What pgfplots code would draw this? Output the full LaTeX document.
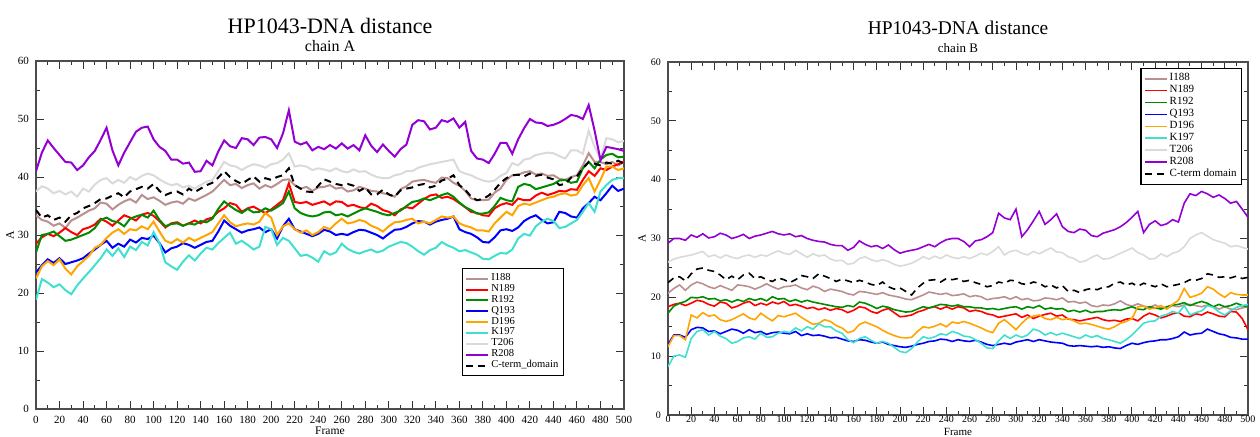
\documentclass[border=0pt]{standalone}
\usepackage{fontspec}
\setmainfont{Liberation Serif}
\usepackage{pgfplots}
\usepackage{pgfplotstable}
\pgfplotsset{compat=1.18}
\definecolor{crosy}{RGB}{188,143,143}
\definecolor{cred}{RGB}{255,0,0}
\definecolor{cgreen}{RGB}{0,139,0}
\definecolor{cblue}{RGB}{0,0,255}
\definecolor{corange}{RGB}{255,165,0}
\definecolor{cturq}{RGB}{64,224,208}
\definecolor{cgray}{RGB}{218,218,218}
\definecolor{cpurple}{RGB}{148,0,211}

\pgfplotstableread{
f I N R Q D K T P C
0 33.4 28.5 27.0 23.5 22.5 18.8 37.5 41.0 34.3
5 32.6 29.6 30.0 24.8 24.6 22.4 38.4 44.2 33.0
10 32.3 30.2 30.2 25.8 25.5 21.8 38.0 46.3 33.4
15 31.6 29.8 30.6 25.2 24.8 21.0 37.2 45.0 32.6
20 32.0 30.4 29.8 26.0 25.8 21.5 37.6 43.8 33.0
25 31.2 31.2 29.0 25.0 24.2 20.5 37.0 42.6 32.3
30 32.5 30.5 29.2 25.3 23.2 19.8 37.5 42.5 33.4
35 33.0 30.0 29.6 25.6 24.6 21.3 36.6 41.2 33.8
40 33.6 31.0 30.0 26.0 25.5 22.5 38.0 42.0 34.6
45 34.2 31.3 30.4 26.8 26.4 23.6 37.5 43.4 35.0
50 34.6 31.8 31.2 27.5 27.8 24.8 38.7 44.5 35.5
55 35.6 32.8 32.6 28.3 28.3 26.0 39.5 46.4 36.2
60 35.4 32.3 33.0 29.0 29.5 27.5 39.8 48.5 36.3
65 34.4 31.6 32.4 27.8 30.4 26.4 38.9 44.6 36.8
70 35.2 32.5 32.2 28.5 31.0 27.7 39.5 42.0 37.2
75 35.8 33.4 31.5 28.0 30.2 26.2 39.0 44.2 36.5
80 36.2 33.0 32.8 29.2 31.0 28.0 40.0 46.0 37.5
85 35.6 32.5 33.2 28.7 30.8 27.4 39.5 47.8 37.9
90 36.9 33.5 33.5 29.5 31.5 28.8 40.2 48.5 38.3
95 36.2 33.8 33.0 29.3 31.0 28.2 40.6 48.7 38.0
100 36.5 33.3 34.2 29.9 32.3 30.5 40.3 46.5 38.8
105 35.9 32.4 32.6 28.6 30.6 28.6 39.6 45.2 37.6
110 35.2 31.3 31.5 27.0 29.0 25.3 39.0 44.5 36.9
115 35.6 32.0 31.9 27.7 28.6 24.6 38.6 43.0 37.3
120 35.8 32.2 32.0 28.0 29.3 24.0 38.8 43.0 37.5
125 35.4 31.6 31.6 28.6 28.7 25.4 38.2 42.3 37.0
130 36.3 32.0 32.0 28.3 29.5 26.5 38.5 42.5 38.0
135 35.9 32.5 31.8 27.8 29.0 25.6 38.0 40.9 37.4
140 36.4 32.0 32.4 28.3 29.5 26.8 38.6 41.0 38.0
145 36.9 32.7 32.2 28.8 30.0 27.8 39.2 42.8 38.6
150 37.5 33.0 32.8 29.0 30.5 27.5 39.5 42.0 39.0
155 38.5 34.0 34.5 30.6 32.0 28.6 41.0 44.4 39.9
160 39.5 34.6 35.8 32.5 33.4 29.5 42.6 46.3 41.0
165 38.6 35.5 35.0 31.6 32.2 30.4 42.0 45.3 40.0
170 38.8 35.2 34.3 31.0 31.5 28.5 41.8 45.0 39.3
175 38.1 34.0 33.8 30.4 31.8 29.0 41.2 46.7 38.8
180 38.6 34.6 34.5 30.8 32.0 28.3 41.8 46.5 39.5
185 38.9 34.9 33.9 31.0 31.8 27.5 42.2 45.5 40.1
190 38.0 34.3 34.0 31.3 32.3 28.0 42.0 46.8 39.2
195 38.6 33.8 34.6 30.5 33.8 31.4 41.6 46.9 39.8
200 38.2 34.4 34.2 31.0 33.0 31.0 42.2 46.5 39.5
205 38.8 35.2 34.8 29.4 30.0 28.3 42.4 45.0 40.0
210 39.5 36.0 35.5 31.5 31.5 29.5 43.0 47.5 40.3
215 39.6 38.9 37.5 32.8 32.0 29.0 44.1 51.5 41.5
220 38.6 35.7 34.6 31.0 31.0 27.7 41.8 46.1 38.6
225 38.0 35.5 33.8 30.6 30.4 26.4 42.0 45.6 38.0
230 38.3 35.7 33.4 30.2 30.8 26.6 41.8 46.0 37.5
235 37.6 35.2 33.2 29.8 30.0 26.1 41.2 44.6 37.4
240 38.2 35.5 33.4 30.2 30.5 25.4 41.5 45.2 38.5
245 38.3 35.8 33.9 30.9 31.4 27.2 41.3 44.8 39.6
250 38.6 35.2 34.0 30.6 31.0 26.6 41.0 45.5 39.2
255 38.0 35.8 33.4 30.0 32.0 27.0 41.5 44.9 38.8
260 38.2 35.7 33.6 30.2 32.8 28.5 41.0 45.8 38.6
265 37.5 35.0 33.2 30.0 32.0 27.6 40.8 44.9 38.8
270 37.7 35.2 33.7 30.5 32.2 27.1 41.3 45.5 38.5
275 38.3 34.8 34.2 30.9 32.6 26.8 40.9 44.6 37.6
280 38.0 34.6 34.6 30.8 32.3 27.2 41.0 47.2 38.2
285 37.6 35.4 34.3 30.4 31.6 27.5 40.4 45.4 37.0
290 37.5 35.0 34.0 30.0 31.2 27.0 40.0 44.3 37.0
295 37.2 34.3 33.6 29.4 30.6 27.3 39.8 45.6 37.8
300 37.0 34.0 33.4 30.2 31.5 28.0 39.8 44.5 37.0
305 36.6 33.4 33.8 30.9 32.2 28.4 40.3 43.5 36.6
310 37.9 34.4 34.2 31.0 32.3 28.8 40.5 44.8 37.7
315 38.4 34.8 35.0 31.4 32.6 28.6 41.0 45.6 38.0
320 39.2 34.6 35.7 32.0 32.8 28.0 41.0 49.0 38.2
325 39.4 35.4 35.9 32.4 32.0 27.2 41.6 49.8 38.6
330 39.5 36.2 36.3 32.3 32.3 26.6 41.9 49.6 38.8
335 39.2 36.8 36.0 31.8 32.0 27.4 42.2 48.2 38.2
340 39.0 37.0 36.4 32.3 32.6 27.8 42.4 48.5 38.5
345 39.9 36.4 36.9 32.6 33.2 28.8 42.6 49.8 39.4
350 39.8 36.6 37.2 32.8 33.0 28.2 42.8 49.5 39.7
355 39.0 36.2 36.6 33.2 33.2 27.8 43.0 50.1 40.3
360 38.5 35.5 35.6 31.0 32.0 27.2 41.0 48.5 38.6
365 37.6 34.8 34.8 30.5 31.6 27.4 40.6 49.5 37.8
370 36.3 34.0 34.3 30.2 31.3 27.0 40.3 44.5 36.6
375 36.0 33.8 33.7 29.6 30.8 26.6 39.8 43.2 36.0
380 36.0 33.4 33.7 28.8 30.8 25.9 39.4 43.0 36.2
385 36.1 33.3 33.9 28.7 30.6 25.8 39.2 42.4 36.8
390 37.3 34.6 35.0 29.6 32.0 26.4 39.4 44.0 37.8
395 38.0 35.2 36.4 30.8 33.0 26.9 40.2 45.9 39.0
400 39.5 35.5 36.0 31.0 34.0 26.8 40.7 45.9 39.8
405 40.3 35.2 35.8 30.7 33.4 27.5 42.4 44.0 40.3
410 40.4 36.3 38.3 31.3 35.0 29.4 42.0 46.5 40.4
415 40.8 36.0 38.8 32.4 35.4 30.2 43.0 48.4 40.1
420 41.0 36.0 38.6 33.0 35.2 29.9 43.2 50.0 40.6
425 40.4 36.8 37.9 33.4 35.6 31.5 43.8 49.4 40.2
430 40.6 37.3 38.2 32.6 36.0 32.3 44.0 49.3 40.4
435 40.2 36.9 38.5 32.0 36.4 32.8 44.2 48.8 39.9
440 40.3 37.2 38.8 32.2 36.6 32.4 44.1 49.0 39.6
445 39.7 37.6 39.4 34.0 37.0 31.2 43.6 49.4 38.6
450 39.5 37.5 39.5 33.8 37.2 31.4 43.2 50.0 38.8
455 40.0 37.9 39.0 33.2 36.8 32.0 44.6 50.7 39.9
460 40.3 37.8 39.2 33.0 37.0 32.6 44.6 50.5 40.1
465 42.0 39.5 41.5 34.6 38.6 34.0 44.0 50.0 41.5
470 44.1 41.0 42.6 35.5 39.8 35.5 48.0 52.4 42.6
475 42.6 40.2 41.5 36.6 37.5 34.0 45.2 48.0 42.3
480 42.6 41.5 43.0 36.0 39.5 37.5 43.0 42.9 42.0
485 42.2 41.2 43.8 37.2 41.8 38.6 46.7 45.2 42.5
490 42.6 41.8 44.0 38.5 41.8 39.5 46.5 45.0 42.3
495 42.0 42.2 43.4 37.6 41.2 39.8 46.0 44.8 42.8
500 42.6 42.6 43.5 38.0 41.5 39.8 46.2 44.5 42.3
}\chainA

\pgfplotstableread{
f I N R Q D K T P C
0 20.7 18.4 17.3 12.0 11.6 8.2 26.0 29.2 22.5
5 21.5 18.8 18.5 13.6 13.5 10.0 26.5 30.0 23.3
10 22.1 19.0 19.0 13.6 13.5 10.2 26.8 30.0 23.5
15 21.2 18.6 19.3 13.2 12.8 9.8 27.0 29.7 22.8
20 22.1 19.0 20.0 14.5 17.0 13.0 27.2 30.6 24.0
25 22.6 19.5 19.9 14.9 16.5 14.2 27.5 30.2 24.8
30 22.3 19.3 20.1 14.8 17.4 14.5 27.8 30.8 25.0
35 21.8 18.8 19.7 14.2 16.8 13.6 26.9 30.1 24.6
40 21.5 18.5 19.8 14.3 17.0 14.2 27.2 30.3 24.4
45 22.0 19.2 19.4 13.8 16.2 13.4 26.7 30.9 23.8
50 21.6 19.0 19.6 14.2 15.9 13.0 27.2 30.6 23.0
55 21.2 18.2 19.2 14.6 16.2 12.2 26.8 30.0 23.6
60 22.1 18.5 19.6 14.4 16.7 12.5 26.6 30.3 23.0
65 22.0 19.0 19.3 13.9 17.2 13.1 27.0 30.7 23.8
70 21.8 19.3 19.8 14.5 16.5 13.3 27.2 30.0 24.1
75 21.4 18.6 19.5 14.0 16.2 12.9 26.8 30.4 23.2
80 21.8 19.0 19.8 14.2 17.3 13.9 27.2 30.6 23.5
85 22.3 18.7 19.4 13.7 16.6 13.2 27.0 30.9 23.0
90 21.8 19.2 20.1 14.0 16.0 13.3 27.5 31.2 22.7
95 21.4 18.9 19.7 14.1 16.9 13.9 27.9 30.8 23.3
100 21.8 19.3 19.8 13.9 16.7 14.2 27.5 30.6 23.0
105 21.9 18.6 19.3 13.8 17.0 14.0 27.3 30.8 22.5
110 22.1 18.8 19.6 14.2 17.3 14.8 28.0 30.3 23.0
115 21.6 18.5 19.2 13.5 16.6 14.3 27.4 30.5 23.7
120 21.3 18.1 19.5 13.8 16.0 15.0 26.8 30.0 23.5
125 21.9 18.3 19.2 13.5 15.4 14.6 27.4 29.7 23.2
130 21.6 17.9 19.0 13.6 15.6 15.5 27.0 29.5 24.0
135 21.0 18.2 18.8 13.4 16.2 15.0 27.2 29.4 23.6
140 21.4 17.8 18.6 13.1 15.9 15.0 26.5 29.0 23.2
145 21.2 18.1 18.4 13.2 15.2 14.3 26.2 28.8 22.7
150 21.0 17.9 18.3 12.9 14.8 13.9 26.3 28.8 23.1
155 20.6 17.4 18.6 12.6 14.0 12.8 25.6 28.0 22.8
160 20.4 17.8 18.4 12.5 14.3 12.3 25.8 28.5 22.5
165 21.0 18.4 19.2 12.8 15.4 13.0 26.6 29.6 22.9
170 20.9 18.2 19.0 12.7 15.8 13.3 26.9 29.0 22.6
175 20.7 17.6 18.6 12.4 15.4 12.7 26.4 28.6 22.2
180 20.5 17.3 18.1 12.2 15.0 12.2 26.1 28.8 22.0
185 20.8 17.8 18.5 12.4 14.4 12.5 26.4 28.3 22.6
190 20.4 18.1 18.3 12.0 13.9 12.2 26.1 28.9 21.8
195 20.2 17.4 17.9 11.8 13.5 11.5 25.6 28.1 21.4
200 20.0 16.7 17.7 11.6 13.2 10.8 25.3 27.5 21.6
205 19.7 16.8 17.5 11.5 13.1 10.6 25.5 27.8 21.0
210 19.6 17.0 17.6 11.7 13.2 11.3 25.8 28.0 20.4
215 20.0 17.5 18.0 12.0 14.2 12.4 26.3 28.2 21.6
220 20.4 17.8 18.4 12.2 15.0 13.3 26.9 28.6 22.4
225 20.9 18.2 18.2 12.5 14.8 13.0 26.5 29.0 22.9
230 20.7 18.4 18.5 12.6 15.1 13.3 27.0 28.6 23.0
235 20.5 18.0 18.8 12.9 15.5 13.8 26.6 29.3 22.6
240 20.7 18.4 18.7 12.8 15.0 13.6 27.2 29.8 23.2
245 20.3 18.0 18.5 12.5 15.8 14.2 26.8 30.0 23.0
250 20.4 18.4 18.7 12.8 15.6 13.9 26.6 30.0 23.2
255 20.6 18.2 18.4 12.6 15.9 13.4 26.9 29.5 22.7
260 20.1 17.6 18.4 12.5 15.6 13.3 26.6 28.6 22.9
265 20.3 17.8 18.2 12.7 15.2 12.8 27.0 29.6 22.5
270 20.1 17.6 18.2 12.4 14.8 12.2 27.5 29.8 22.2
275 19.6 17.2 18.0 12.0 14.3 11.4 27.2 30.3 21.8
280 19.8 17.0 18.1 11.8 14.0 11.3 27.8 31.0 22.0
285 19.9 16.6 17.9 12.0 15.6 12.6 28.6 34.3 22.6
290 20.1 16.8 18.1 12.2 16.2 13.6 27.2 33.5 22.4
295 19.7 17.0 18.3 12.0 15.4 13.0 27.8 33.2 22.9
300 20.1 17.2 18.4 12.4 14.5 13.6 28.0 35.0 22.8
305 19.6 16.6 18.0 12.6 15.6 13.2 27.5 30.3 22.3
310 19.8 17.0 18.4 12.8 16.5 13.6 27.2 31.5 22.2
315 19.4 16.4 18.2 12.5 16.8 14.6 27.8 33.0 22.6
320 19.5 16.8 18.6 12.8 17.0 14.3 27.4 34.6 22.4
325 19.9 17.1 18.0 12.6 16.4 13.6 27.9 32.4 21.8
330 19.8 17.3 18.2 12.4 16.2 14.0 28.4 33.2 22.1
335 19.6 16.8 18.0 12.3 16.6 13.6 27.7 34.2 21.6
340 19.9 17.0 18.1 12.2 16.2 13.9 27.6 32.0 22.0
345 19.2 16.3 17.6 11.8 16.4 13.6 26.9 31.2 21.0
350 19.3 16.2 17.8 11.7 16.0 13.3 26.6 31.0 21.2
355 19.0 16.0 17.5 11.8 15.5 13.0 26.0 31.6 20.8
360 19.2 16.2 17.8 11.7 15.6 13.6 26.2 31.4 21.3
365 18.6 16.4 17.4 11.6 15.4 13.2 26.8 30.5 21.5
370 18.4 16.6 17.6 11.7 15.1 13.5 27.2 30.3 21.3
375 18.7 16.2 17.6 11.5 14.8 13.0 26.5 30.9 21.7
380 18.6 16.0 17.8 11.6 14.6 12.8 26.6 31.2 21.8
385 18.9 16.1 17.9 11.4 15.0 12.5 27.0 31.5 22.4
390 19.4 15.9 17.8 11.3 15.6 12.2 27.5 32.0 22.6
395 18.8 16.3 18.1 11.8 15.9 12.8 27.9 32.7 22.1
400 18.5 16.4 18.4 12.2 16.4 13.6 28.4 33.6 22.4
405 18.9 16.0 18.0 12.0 18.4 14.6 27.6 34.6 21.9
410 18.5 16.8 17.9 12.3 18.5 15.6 27.2 31.0 22.4
415 18.3 17.3 18.4 12.5 18.0 15.9 26.5 32.4 22.1
420 18.7 17.0 18.2 12.6 18.2 16.0 26.6 33.0 21.8
425 18.2 16.5 18.0 12.8 18.6 16.8 27.4 32.2 22.3
430 18.1 16.8 18.4 12.8 18.0 17.1 26.9 32.5 21.8
435 18.6 17.2 18.7 13.0 18.8 17.6 27.5 33.2 22.0
440 18.4 17.4 18.8 13.3 19.5 17.3 27.8 32.8 22.2
445 18.7 16.8 19.1 14.1 21.5 18.6 28.6 36.0 22.5
450 18.8 16.7 18.6 13.6 20.0 17.0 30.0 37.6 23.0
455 18.6 17.2 19.0 13.8 20.3 17.4 30.6 37.3 22.9
460 18.4 17.0 19.3 13.9 20.7 17.7 31.0 38.0 23.2
465 18.7 17.5 19.0 14.6 21.8 18.6 30.4 37.6 24.0
470 18.4 17.2 18.4 14.2 21.4 18.3 29.8 37.0 23.8
475 18.0 16.8 18.8 13.8 20.6 17.5 29.5 37.4 23.4
480 18.4 16.7 18.4 13.6 20.0 17.0 29.2 36.8 23.5
485 18.0 17.6 18.6 13.2 20.8 17.7 28.6 36.0 23.3
490 17.9 17.5 19.0 13.1 20.5 18.3 28.8 36.3 23.6
495 18.2 16.4 18.6 12.9 20.4 18.6 28.5 35.0 23.2
500 18.4 14.5 18.4 12.9 20.4 18.8 28.2 33.6 23.4
}\chainB

\pgfplotsset{
  hpaxis/.style={
    scale only axis,
    xmin=0, xmax=500, ymin=0, ymax=60,
    xtick distance=20, ytick distance=10,
    minor x tick num=1, minor y tick num=1,
    major tick length=4pt, minor tick length=2pt,
    tick style={black!80, line width=0.5pt},
    axis line style={black!70, line width=0.6pt},
    /pgf/number format/assume math mode=true,
    legend cell align=left,
    legend image code/.code={\draw[##1] (0pt,0pt) -- (11pt,0pt);},
    legend style={draw=black, line width=0.6pt, fill=white,
      inner sep=1.5pt, nodes={inner sep=1pt}},
    clip=true,
  },
}

\begin{document}
\begin{tikzpicture}
\path[use as bounding box] (0pt,0pt) rectangle (630pt,218pt);

\node[font=\fontsize{11}{12}\selectfont] at (165pt,205pt) {HP1043-DNA distance};
\node[font=\fontsize{8}{9}\selectfont] at (165pt,195pt) {chain A};
\node[font=\fontsize{9.7}{10}\selectfont] at (479pt,204pt) {HP1043-DNA distance};
\node[font=\fontsize{6.5}{7}\selectfont] at (479pt,194pt) {chain B};

\begin{axis}[hpaxis,
  at={(18pt,13.5pt)}, anchor=south west,
  width=294pt, height=174pt,
  tick label style={font=\fontsize{5.5}{6}\selectfont},
  xlabel={Frame}, ylabel={A},
  label style={font=\fontsize{5.8}{6}\selectfont},
  xlabel style={at={(axis description cs:0.5,-0.063)}, anchor=center},
  ylabel style={at={(axis description cs:-0.044,0.5)}, anchor=center},
  every axis plot/.append style={line width=1pt},
  legend style={at={(rel axis cs:0.724,0.405)}, anchor=north west,
    font=\fontsize{5.3}{6}\selectfont, row sep=-1.6pt},
]
\addplot[color=crosy] table[x=f,y=I]{\chainA};
\addlegendentry{I188}
\addplot[color=cred] table[x=f,y=N]{\chainA};
\addlegendentry{N189}
\addplot[color=cgreen] table[x=f,y=R]{\chainA};
\addlegendentry{R192}
\addplot[color=cblue] table[x=f,y=Q]{\chainA};
\addlegendentry{Q193}
\addplot[color=corange] table[x=f,y=D]{\chainA};
\addlegendentry{D196}
\addplot[color=cturq] table[x=f,y=K]{\chainA};
\addlegendentry{K197}
\addplot[color=cgray] table[x=f,y=T]{\chainA};
\addlegendentry{T206}
\addplot[color=cpurple] table[x=f,y=P]{\chainA};
\addlegendentry{R208}
\addplot[color=black, dash pattern=on 3.5pt off 2.5pt] table[x=f,y=C]{\chainA};
\addlegendentry{C-term\_domain}
\end{axis}

\begin{axis}[hpaxis,
  at={(334pt,10.5pt)}, anchor=south west,
  width=290pt, height=176.5pt,
  tick label style={font=\fontsize{5}{6}\selectfont},
  xticklabel style={inner sep=0.5pt, yshift=0.5pt},
  xlabel={Frame}, ylabel={A},
  label style={font=\fontsize{5.5}{6}\selectfont},
  xlabel style={at={(axis description cs:0.5,-0.0567)}, anchor=base, inner sep=0pt},
  ylabel style={at={(axis description cs:-0.045,0.5)}, anchor=center},
  every axis plot/.append style={line width=0.8pt},
  legend style={at={(rel axis cs:0.99,0.983)}, anchor=north east,
    font=\fontsize{5.5}{6}\selectfont, row sep=-1.2pt},
]
\addplot[color=crosy] table[x=f,y=I]{\chainB};
\addlegendentry{I188}
\addplot[color=cred] table[x=f,y=N]{\chainB};
\addlegendentry{N189}
\addplot[color=cgreen] table[x=f,y=R]{\chainB};
\addlegendentry{R192}
\addplot[color=cblue] table[x=f,y=Q]{\chainB};
\addlegendentry{Q193}
\addplot[color=corange] table[x=f,y=D]{\chainB};
\addlegendentry{D196}
\addplot[color=cturq] table[x=f,y=K]{\chainB};
\addlegendentry{K197}
\addplot[color=cgray] table[x=f,y=T]{\chainB};
\addlegendentry{T206}
\addplot[color=cpurple] table[x=f,y=P]{\chainB};
\addlegendentry{R208}
\addplot[color=black, dash pattern=on 3.5pt off 2.5pt] table[x=f,y=C]{\chainB};
\addlegendentry{C-term domain}
\end{axis}
\end{tikzpicture}
\end{document}
